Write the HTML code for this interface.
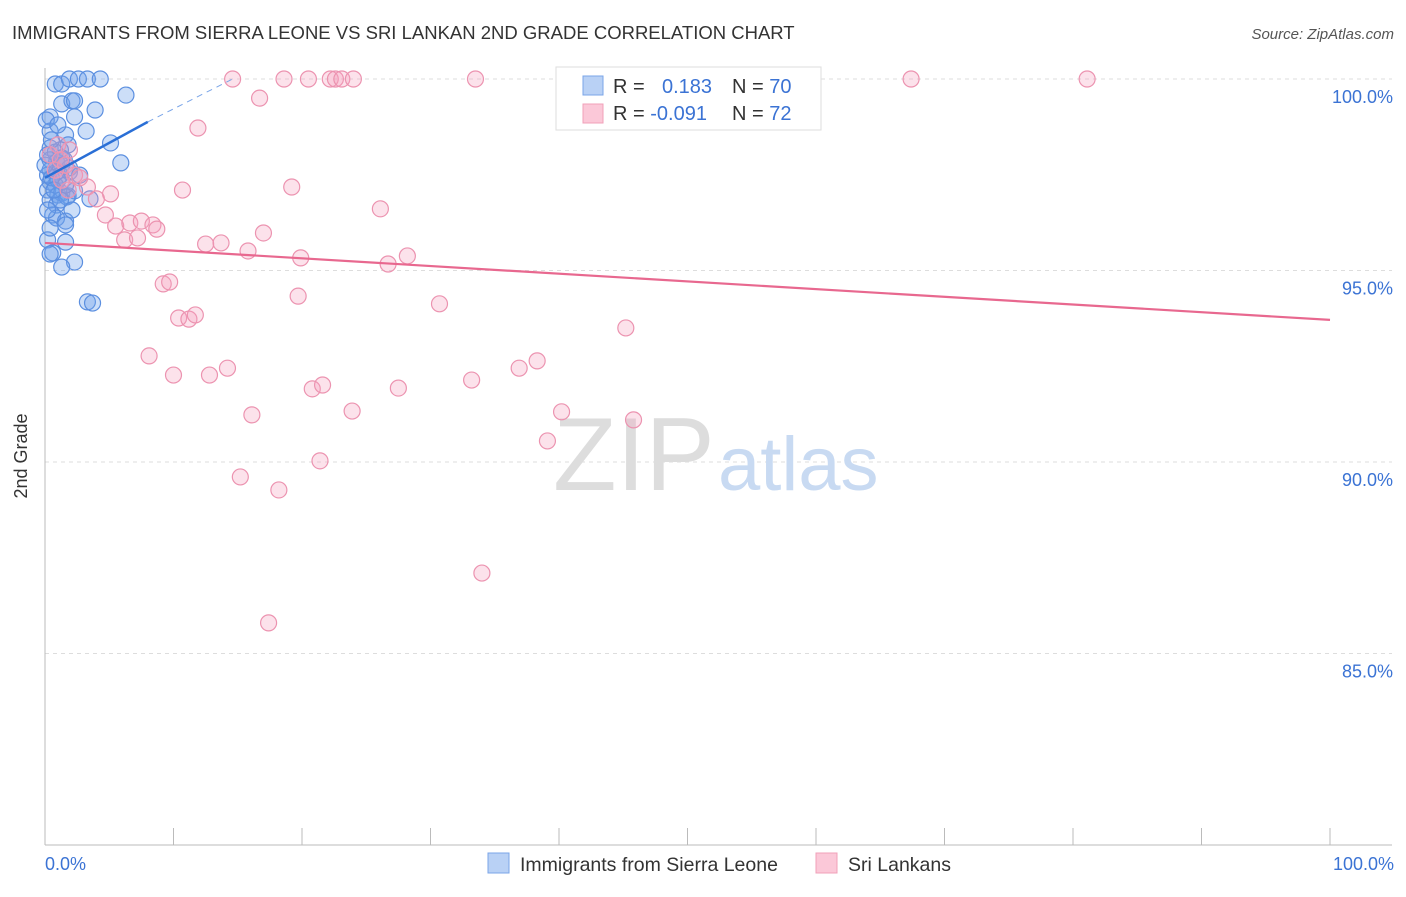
<!DOCTYPE html>
<html><head><meta charset="utf-8"><style>
body{margin:0;background:#fff;font-family:"Liberation Sans",sans-serif}
svg text{font-family:"Liberation Sans",sans-serif}
</style></head><body>
<svg width="1406" height="892" xmlns="http://www.w3.org/2000/svg">
<text x="12" y="39" font-size="18.5" fill="#333">IMMIGRANTS FROM SIERRA LEONE VS SRI LANKAN 2ND GRADE CORRELATION CHART</text>
<text x="1394" y="39" font-size="15" fill="#555" text-anchor="end" font-style="italic">Source: ZipAtlas.com</text>
<g id="grid"></g>
<g><text x="553" y="490" font-size="104" fill="#ddd" font-family="Liberation Serif">ZIP</text><text x="718" y="490" font-size="76" fill="#c8daf2">atlas</text></g>
<g id="axes"></g>
<g id="pts"></g>
<g id="lines"></g>
<text x="27" y="456" font-size="18" fill="#333" text-anchor="middle" transform="rotate(-90 27 456)">2nd Grade</text>
<text x="45" y="870" font-size="18" fill="#3b73d4">0.0%</text>
<text x="1394" y="870" font-size="18" fill="#3b73d4" text-anchor="end">100.0%</text>
<g>
<rect x="556" y="67" width="265" height="63" fill="#fff" stroke="#ddd"/>
<rect x="583" y="76" width="20" height="19" fill="#b9d1f5" stroke="#7aa5e8"/>
<rect x="583" y="104" width="20" height="19" fill="#fbc8d8" stroke="#f0a0b9"/>
<text x="613" y="93" font-size="20" fill="#333">R = <tspan fill="#3b73d4" x="662">0.183</tspan><tspan fill="#333" x="732">N = </tspan><tspan fill="#3b73d4">70</tspan></text>
<text x="613" y="120" font-size="20" fill="#333">R = <tspan fill="#3b73d4">-0.091</tspan><tspan fill="#333" x="732">N = </tspan><tspan fill="#3b73d4"> 72</tspan></text>
</g>
<g>
<rect x="488" y="853" width="21" height="20" fill="#b9d1f5" stroke="#7aa5e8"/>
<text x="520" y="871" font-size="19.5" fill="#333">Immigrants from Sierra Leone</text>
<rect x="816" y="853" width="21" height="20" fill="#fbc8d8" stroke="#f0a0b9"/>
<text x="848" y="871" font-size="19.5" fill="#333">Sri Lankans</text>
</g>
</svg>
<script>
const blueX=[0.8,1.3,1.9,2.6,3.3,4.3,1.3,2.1,2.3,0.4,2.3,3.9,6.3,0.4,1.6,3.2,1.8,5.1,0.4,0.8,0.4,0.9,1.5,1.3,5.9,0.4,0.9,1.2,1.9,0.4,0.8,0.2,1.0,1.3,1.8,2.3,3.5,0.4,0.9,1.7,0.6,0.9,1.6,1.6,0.2,1.6,0.6,0.4,2.3,1.3,3.3,3.7,0.2,0.5,1.0,0,0.2,1.2,1.9,2.7,0.5,0.1,1.0,1.6,1.2,0.4,2.1,0.7,1.3,0.2];
const blueY=[99.87,99.87,100,100,100,100,99.35,99.43,99.43,99.01,99.01,99.19,99.58,98.64,98.54,98.64,98.28,98.33,98.2,98.09,97.89,97.83,97.89,97.75,97.81,97.62,97.57,97.49,97.57,97.31,97.23,97.1,96.97,97.02,96.95,97.08,96.87,96.84,96.71,96.92,96.45,96.37,96.29,96.19,95.8,95.74,95.46,95.43,95.22,95.09,94.18,94.15,97.49,97.42,97.36,97.75,98.02,98.15,97.68,97.49,98.41,98.93,98.8,97.23,96.84,96.11,96.58,97.1,97.94,96.58];
const pinkX=[14.6,18.6,20.5,22.2,22.6,23.1,24.0,33.5,41.5,67.4,81.1,16.7,11.9,10.7,19.2,26.1,5.1,3.3,2.3,2.7,4.0,4.7,5.5,6.6,7.5,8.4,8.7,6.2,7.2,12.5,13.7,15.8,17.0,19.9,26.7,28.2,9.2,9.7,19.7,30.7,10.4,11.2,11.7,45.2,8.1,10.0,12.8,14.2,20.8,21.6,27.5,33.2,36.9,38.3,23.9,16.1,40.2,45.8,39.1,21.4,15.2,18.2,34.0,17.4,1.2,1.6,0.8,1.9,0.4,1.3,1.8,1.0];
const pinkY=[100,100,100,100,100,100,100,100,100,100,100,99.5,98.72,97.1,97.18,96.61,97.0,97.18,97.49,97.42,96.87,96.45,96.16,96.24,96.29,96.19,96.08,95.8,95.85,95.69,95.72,95.51,95.98,95.33,95.17,95.38,94.65,94.7,94.33,94.13,93.76,93.73,93.84,93.5,92.77,92.27,92.27,92.45,91.91,92.01,91.93,92.14,92.45,92.64,91.33,91.23,91.31,91.1,90.55,90.03,89.61,89.27,87.1,85.8,97.89,97.75,97.62,98.15,98.02,97.36,97.1,98.28];
const yTicks=[100,95,90,85];
const yTickLabels=["100.0%","95.0%","90.0%","85.0%"];
const xTicks=[0,10,20,30,40,50,60,70,80,90,100];
const blueTrend=[[0,97.42],[8,98.88]];
const blueTrendDash=[[8,98.88],[14.6,100]];
const pinkTrend=[[0,95.72],[100,93.71]];
const NS="http://www.w3.org/2000/svg";
const sx=v=>45+v*12.85, sy=v=>79+(100-v)*38.3;
function mk(t,a,p){const e=document.createElementNS(NS,t);for(const k in a)e.setAttribute(k,a[k]);p.appendChild(e);return e;}
const grid=document.getElementById('grid'),axes=document.getElementById('axes'),pts=document.getElementById('pts'),lines=document.getElementById('lines');
yTicks.forEach((t,i)=>{
 const l=mk('line',{x1:45,x2:1392,y1:sy(t),y2:sy(t),stroke:'#ddd','stroke-dasharray':'4,4'},grid);
 
 
 const tx=mk('text',{x:1393,y:sy(t)+24,'font-size':18,fill:'#3b73d4','text-anchor':'end'},axes);
 tx.textContent=yTickLabels[i];
 
 
});
const la=mk('line',{x1:45,x2:45,y1:68,y2:845,stroke:'#bbb'},axes);


const lb=mk('line',{x1:45,x2:1392,y1:845,y2:845,stroke:'#bbb'},axes);


xTicks.forEach(t=>{
 const l=mk('line',{x1:sx(t),x2:sx(t),y1:828,y2:845,stroke:'#bbb'},axes);
 
 
});
blueX.forEach((x,i)=>{
 const c=mk('circle',{cx:sx(x),cy:sy(blueY[i]),r:8,fill:'rgba(110,160,235,0.35)',stroke:'#5b8fe0','stroke-width':1.2},pts);
 
 
});
pinkX.forEach((x,i)=>{
 const c=mk('circle',{cx:sx(x),cy:sy(pinkY[i]),r:8,fill:'rgba(245,160,190,0.3)',stroke:'#ec93b0','stroke-width':1.2},pts);
 
 
});
const b1=mk('line',{x1:sx(blueTrend[0][0]),y1:sy(blueTrend[0][1]),x2:sx(blueTrend[1][0]),y2:sy(blueTrend[1][1]),stroke:'#2a6fd6','stroke-width':2.5},lines);


const b2=mk('line',{x1:sx(blueTrendDash[0][0]),y1:sy(blueTrendDash[0][1]),x2:sx(blueTrendDash[1][0]),y2:sy(blueTrendDash[1][1]),stroke:'#7aa5e8','stroke-width':1,'stroke-dasharray':'6,5'},lines);


const p1=mk('line',{x1:sx(pinkTrend[0][0]),y1:sy(pinkTrend[0][1]),x2:sx(pinkTrend[1][0]),y2:sy(pinkTrend[1][1]),stroke:'#e8688f','stroke-width':2.2},lines);


</script>
</body></html>
